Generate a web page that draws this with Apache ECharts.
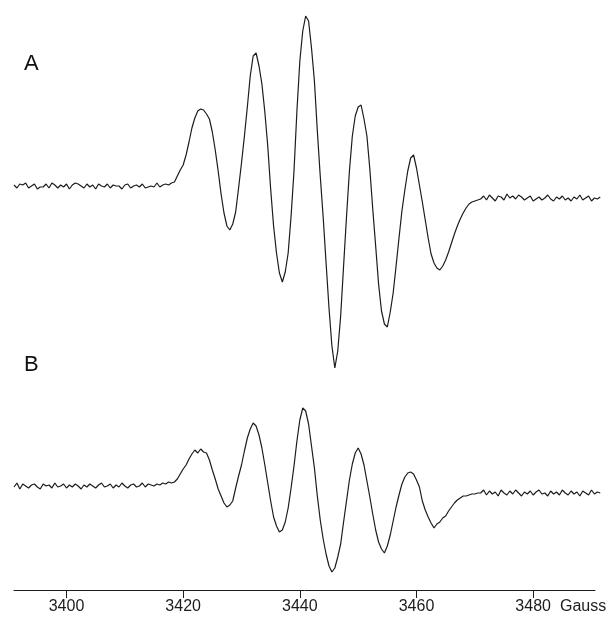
<!DOCTYPE html>
<html style="height: 100%">
<head>
	<meta charset="utf-8">
</head>
<body style="height: 100%; margin: 0; background: #fff">
<div id="container" style="width: 611px; height: 621px"></div>
<script type="text/javascript" src="https://cdn.jsdelivr.net/npm/echarts@6.0.0/dist/echarts.min.js"></script>
<script type="text/javascript">
    // field sweep: 3391.0 .. 3491.5 G, one reading every 0.5 G
    var fieldStart = 3391;
    var fieldStep = 0.5;
    var tickValues = [3400, 3420, 3440, 3460, 3480];

    // spectrum A (arbitrary units, baseline = 0)
    var signalA = [
        // 3391.0 - 3418.0 baseline
        1, -2, 2, 1, 3, -2, 0, 2, -3, -1,
        -1, 2, -2, 3, 1, -2, 1, -1, 2, -3,
        1, 3, 2, 0, -2, 2, -1, 1, -3, 2,
        0, -1, 2, -2, 1, 0, 0, -3, 1, 2,
        -2, 0, 1, -1, 2, -2, -1, 0, -1, 3,
        -1, 1, 2, 1, 3,
        // 3418.5 - 3470.5 lines
        4, 10, 16, 21, 31, 44, 58, 68, 75, 77,
        76, 72, 67, 54, 36, 15, -8, -27, -40, -44,
        -38, -26, -2, 23, 50, 79, 110, 130, 133, 120,
        102, 74, 40, -3, -40, -67, -87, -96, -86, -67,
        -30, 15, 75, 125, 155, 170, 165, 138, 105, 55,
        10, -31, -77, -122, -160, -182, -165, -130, -80, -31,
        15, 50, 70, 79, 81, 67, 50, 17, -23, -60,
        -98, -125, -138, -141, -126, -107, -80, -52, -25, -4,
        15, 28, 31, 18, 1, -16, -34, -52, -68, -77,
        -82, -84, -80, -74, -66, -57, -48, -40, -33, -27,
        -22, -18, -16, -15, -14,
        // 3471.0 - 3491.5 baseline
        -13, -10, -14, -9, -12, -15, -10, -11, -14, -8,
        -12, -10, -13, -9, -11, -14, -12, -10, -15, -13,
        -11, -14, -12, -9, -13, -15, -11, -13, -10, -14,
        -12, -15, -11, -13, -9, -14, -12, -10, -15, -12,
        -13, -11
    ];

    // spectrum B
    var signalB = [
        // 3391.0 - 3418.0 baseline
        -1, 3, -3, 2, 0, -2, 1, 2, -1, -3,
        2, 0, 1, -2, 3, -1, 0, 2, -2, 1,
        -1, 2, 0, -3, 1, -1, 2, 0, -2, 1,
        3, -1, 0, 2, -2, 1, -1, 3, 0, -2,
        1, 2, -1, 0, 3, -1, 2, 1, 0, 2,
        1, 3, 2, 4, 3,
        // 3418.5 - 3470.5 lines
        4, 7, 12, 17, 21, 27, 32, 36, 33, 37,
        34, 33, 26, 16, 7, -3, -10, -17, -21, -19,
        -15, -2, 10, 21, 35, 48, 57, 63, 60, 51,
        38, 21, 3, -15, -31, -40, -46, -44, -36, -22,
        -2, 20, 45, 66, 78, 75, 62, 40, 18, -10,
        -34, -53, -68, -80, -86, -82, -71, -58, -36, -15,
        6, 22, 33, 38, 32, 21, 5, -11, -28, -44,
        -56, -63, -67, -60, -49, -35, -21, -9, 2, 9,
        13, 14, 12, 6, -1, -15, -24, -31, -37, -42,
        -38, -36, -32, -30, -25, -21, -17, -14, -12, -10,
        -10, -9, -8, -8, -7,
        // 3471.0 - 3491.5 baseline
        -7, -4, -9, -5, -8, -6, -10, -4, -7, -9,
        -5, -8, -4, -7, -10, -6, -8, -5, -9, -6,
        -4, -8, -7, -10, -5, -8, -6, -9, -4, -7,
        -9, -5, -8, -6, -10, -5, -7, -9, -4, -8,
        -6, -7
    ];

    function toPairs(values) {
        return values.map(function (v, i) {
            return [fieldStart + i * fieldStep, v];
        });
    }

    var font = 'Liberation Sans, Arial, sans-serif';
    var ink = '#1c1c1c';

    var dom = document.getElementById("container");
    var myChart = echarts.init(dom);

    var hiddenX = {
        type: 'value', min: 3391, max: 3491.8, show: false
    };

    var option = {
        backgroundColor: '#fff',
        animation: false,
        title: [{
            text: 'A', left: 24, top: 53, padding: 0,
            textStyle: { fontSize: 22, fontWeight: 'normal', fontFamily: font, color: '#111' }
        }, {
            text: 'B', left: 24, top: 354, padding: 0,
            textStyle: { fontSize: 22, fontWeight: 'normal', fontFamily: font, color: '#111' }
        }],
        grid: [
            { left: 14, top: 0, width: 588, height: 400 },
            { left: 14, top: 400, width: 588, height: 200 },
            { left: 14, top: 400, width: 581, height: 190 }
        ],
        xAxis: [
            Object.assign({ gridIndex: 0 }, hiddenX),
            Object.assign({ gridIndex: 1 }, hiddenX),
            {
                gridIndex: 2,
                type: 'value',
                min: 3391,
                max: 3490.6,
                name: 'Gauss',
                nameLocation: 'end',
                nameGap: -35,
                nameTextStyle: {
                    fontSize: 16, fontFamily: font, color: ink,
                    align: 'left', verticalAlign: 'top', padding: [9, 0, 0, 0]
                },
                axisLine: { lineStyle: { color: ink, width: 1 } },
                axisTick: { customValues: tickValues, length: 8, lineStyle: { color: ink } },
                axisLabel: {
                    customValues: tickValues,
                    margin: 9,
                    fontSize: 16,
                    fontFamily: font,
                    color: ink,
                    formatter: function (value) {
                        return String(value);
                    }
                },
                splitLine: { show: false }
            }
        ],
        yAxis: [
            { gridIndex: 0, type: 'value', min: -214, max: 186, show: false },
            { gridIndex: 1, type: 'value', min: -114, max: 86, show: false },
            { gridIndex: 2, type: 'value', min: 0, max: 1, show: false }
        ],
        series: [{
            type: 'line',
            xAxisIndex: 0,
            yAxisIndex: 0,
            data: toPairs(signalA),
            showSymbol: false,
            symbol: 'none',
            lineStyle: { color: ink, width: 1.2 }
        }, {
            type: 'line',
            xAxisIndex: 1,
            yAxisIndex: 1,
            data: toPairs(signalB),
            showSymbol: false,
            symbol: 'none',
            lineStyle: { color: ink, width: 1.2 }
        }]
    };

    myChart.setOption(option, true);
</script>
</body>
</html>
